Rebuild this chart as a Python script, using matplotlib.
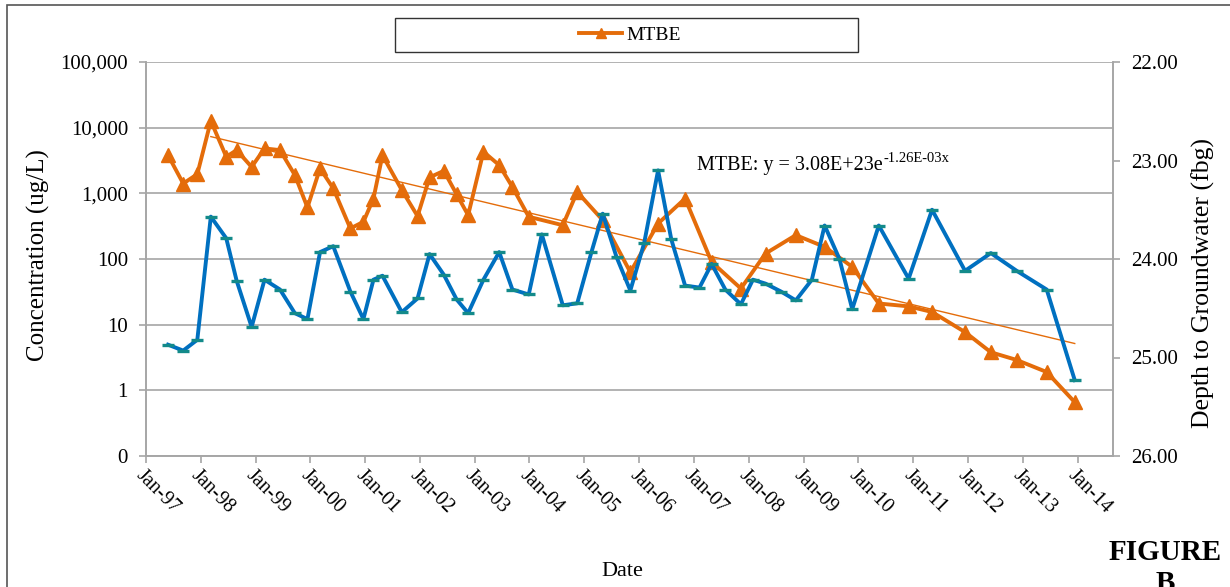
import matplotlib
matplotlib.use("Agg")
import matplotlib.pyplot as plt
import matplotlib.dates as mdates
from matplotlib.ticker import FixedLocator, FuncFormatter, NullLocator
from matplotlib.patches import Rectangle
from matplotlib.lines import Line2D
import numpy as np
import pandas as pd

plt.rcParams['font.family'] = ['Liberation Serif', 'DejaVu Serif']

# --- data ---
# groundwater depth (right axis, fbg)
gw_dates = ["1997-05-28", "1997-09-06", "1997-12-09", "1998-03-09", "1998-06-20", "1998-08-28",
            "1998-12-06", "1999-03-02", "1999-06-13", "1999-09-20", "1999-12-13", "2000-03-06",
            "2000-06-02", "2000-09-24", "2000-12-20", "2001-02-25", "2001-04-26", "2001-09-02",
            "2001-12-16", "2002-03-06", "2002-06-09", "2002-09-02", "2002-11-18", "2003-02-28",
            "2003-06-13", "2003-09-09", "2003-12-27", "2004-03-23", "2004-08-10", "2004-11-14",
            "2005-02-17", "2005-05-03", "2005-08-03", "2005-11-03", "2006-02-03", "2006-05-07",
            "2006-08-03", "2006-11-03", "2007-02-07", "2007-04-29", "2007-07-29", "2007-11-10",
            "2008-01-29", "2008-04-22", "2008-08-03", "2008-11-10", "2009-02-25", "2009-05-21",
            "2009-08-28", "2009-11-21", "2010-05-17", "2010-12-02", "2011-05-07", "2011-12-13",
            "2012-06-02", "2012-11-21", "2013-06-09", "2013-12-13"]
gw_depth = [24.87, 24.93, 24.82, 23.57, 23.79, 24.22, 24.69, 24.21, 24.31, 24.55, 24.61, 23.93,
            23.87, 24.33, 24.61, 24.21, 24.17, 24.54, 24.40, 23.95, 24.16, 24.41, 24.55, 24.21,
            23.93, 24.31, 24.36, 23.75, 24.47, 24.45, 23.93, 23.54, 23.98, 24.32, 23.84, 23.10,
            23.80, 24.27, 24.29, 24.05, 24.31, 24.46, 24.21, 24.25, 24.33, 24.42, 24.21, 23.66,
            24.00, 24.51, 23.66, 24.20, 23.50, 24.12, 23.94, 24.12, 24.31, 25.23]

# MTBE concentration (left axis, ug/L)
mtbe_dates = ["1997-05-28", "1997-09-06", "1997-12-09", "1998-03-09", "1998-06-20", "1998-08-28",
              "1998-12-06", "1999-03-02", "1999-06-13", "1999-09-20", "1999-12-13", "2000-03-06",
              "2000-06-02", "2000-09-24", "2000-12-20", "2001-02-25", "2001-04-26", "2001-09-02",
              "2001-12-16", "2002-03-06", "2002-06-09", "2002-09-02", "2002-11-18", "2003-02-28",
              "2003-06-13", "2003-09-09", "2003-12-27", "2004-08-10", "2004-11-14", "2005-05-03",
              "2005-11-03", "2006-05-07", "2006-11-03", "2007-04-29", "2007-11-10", "2008-04-22",
              "2008-11-10", "2009-05-21", "2009-11-21", "2010-05-17", "2010-12-02", "2011-05-07",
              "2011-12-13", "2012-06-02", "2012-11-21", "2013-06-09", "2013-12-13"]
mtbe = [3800, 1410, 1960, 12700, 3600, 4550, 2520, 4830, 4550, 1900,
        610, 2400, 1190, 292, 368, 833, 3800, 1120, 450, 1750,
        2200, 970, 465, 4300, 2690, 1250, 440, 327, 1050, 390,
        63, 347, 833, 90, 35.5, 121, 231, 153, 76, 21,
        19, 15.6, 7.7, 3.8, 2.9, 1.9, 0.66]

# exponential trendline from the chart: y = a * exp(b * x), x = Excel date serial
trend_a = 3.08e23
trend_b = -1.26e-03
trend_start = "1998-03-09"
trend_end = "2013-12-13"

conc_ticks = [0.1, 1, 10, 100, 1000, 10000, 100000]
depth_ticks = [22, 23, 24, 25, 26]

orange = "#E46C0A"
blue = "#0070C0"
teal = "#138A8A"
grid_c = "#A6A6A6"

W, H = 1230, 587
fig = plt.figure(figsize=(W / 100, H / 100), dpi=100)
ax = fig.add_axes([146 / W, 1 - 456 / H, (1113 - 146) / W, (456 - 62) / H])

md = pd.to_datetime(mtbe_dates)
ax.plot(md, mtbe, color=orange, lw=2.8, marker='^', ms=10.5, zorder=3)

tx = pd.date_range(trend_start, trend_end, periods=50)
serial = mdates.date2num(tx) + 25569
ax.plot(tx, trend_a * np.exp(trend_b * serial), color=orange, lw=1.0, zorder=2)

ax.set_yscale('log')
ax.set_ylim(0.1, 100000)
ax.yaxis.set_major_locator(FixedLocator(conc_ticks))
ax.yaxis.set_minor_locator(NullLocator())
ax.yaxis.set_major_formatter(FuncFormatter(lambda v, p: "0" if v < 1 else f"{v:,.0f}"))
ax.grid(axis='y', color=grid_c, lw=1.2)
ax.set_axisbelow(True)

ax.set_xlim(pd.Timestamp("1997-01-01"), pd.Timestamp("2014-08-25"))
ax.xaxis.set_major_locator(mdates.YearLocator())
ax.xaxis.set_major_formatter(mdates.DateFormatter("%b-%y"))

ax2 = ax.twinx()
ax2.plot(pd.to_datetime(gw_dates), gw_depth, color=blue, lw=2.8, marker='_', ms=9,
         mew=2.4, mec=teal, zorder=4)
ax2.set_ylim(26, 22)
ax2.yaxis.set_major_locator(FixedLocator(depth_ticks))
ax2.yaxis.set_major_formatter(FuncFormatter(lambda v, p: f"{v:.2f}"))

for a in (ax, ax2):
    for s in a.spines.values():
        s.set_color(grid_c)
        s.set_linewidth(1.2)
    a.tick_params(length=5, width=1.2, color=grid_c, labelsize=15, pad=8)
ax.spines['top'].set_visible(False)
ax2.spines['top'].set_visible(False)
ax.tick_params(axis='x', labelsize=14.5, pad=2)
plt.setp(ax.get_xticklabels(), rotation=-45, ha='left', va='top', rotation_mode='anchor')

ax.set_ylabel("Concentration (ug/L)", fontsize=18)
ax.yaxis.set_label_coords(-0.099, 0.51)
ax2.set_ylabel("Depth to Groundwater (fbg)", fontsize=18.5)
ax2.yaxis.set_label_coords(1.081, 0.44)

fig.text(622 / W, 1 - 571 / H, "Date", fontsize=16, ha='center', va='center')

# trendline equation, superscript placed after the main text
eq = fig.text(697 / W, 1 - 170 / H, "MTBE: y = 3.08E+23e", fontsize=14.5,
              ha='left', va='baseline')
fig.canvas.draw()
bb = eq.get_window_extent()
fig.text(bb.x1 / W + 0.0005, 1 - 162 / H, "-1.26E-03x", fontsize=10.5,
         ha='left', va='baseline')

fig.text(1165 / W, 1 - 539 / H, "FIGURE\nB", fontsize=21, fontweight='bold',
         ha='center', va='top', multialignment='center', linespacing=1.2)

# legend box
fig.patches.append(Rectangle((395 / W, 1 - 52 / H), 463 / W, 34 / H, transform=fig.transFigure,
                             fill=False, edgecolor='#333333', lw=1.0))
handle = Line2D([], [], color=orange, lw=2.8, marker='^', ms=7)
fig.legend([handle], ["MTBE"], loc='center', bbox_to_anchor=(630 / W, 1 - 35 / H),
           frameon=False, fontsize=14, handlelength=2.2, handletextpad=0.2)

# outer border
fig.patches.append(Rectangle((7 / W, -0.1), 1.2, 1 - 5 / H + 0.1, transform=fig.transFigure,
                             fill=False, edgecolor='#555555', lw=1.2))

fig.savefig("out.png", dpi=100)
